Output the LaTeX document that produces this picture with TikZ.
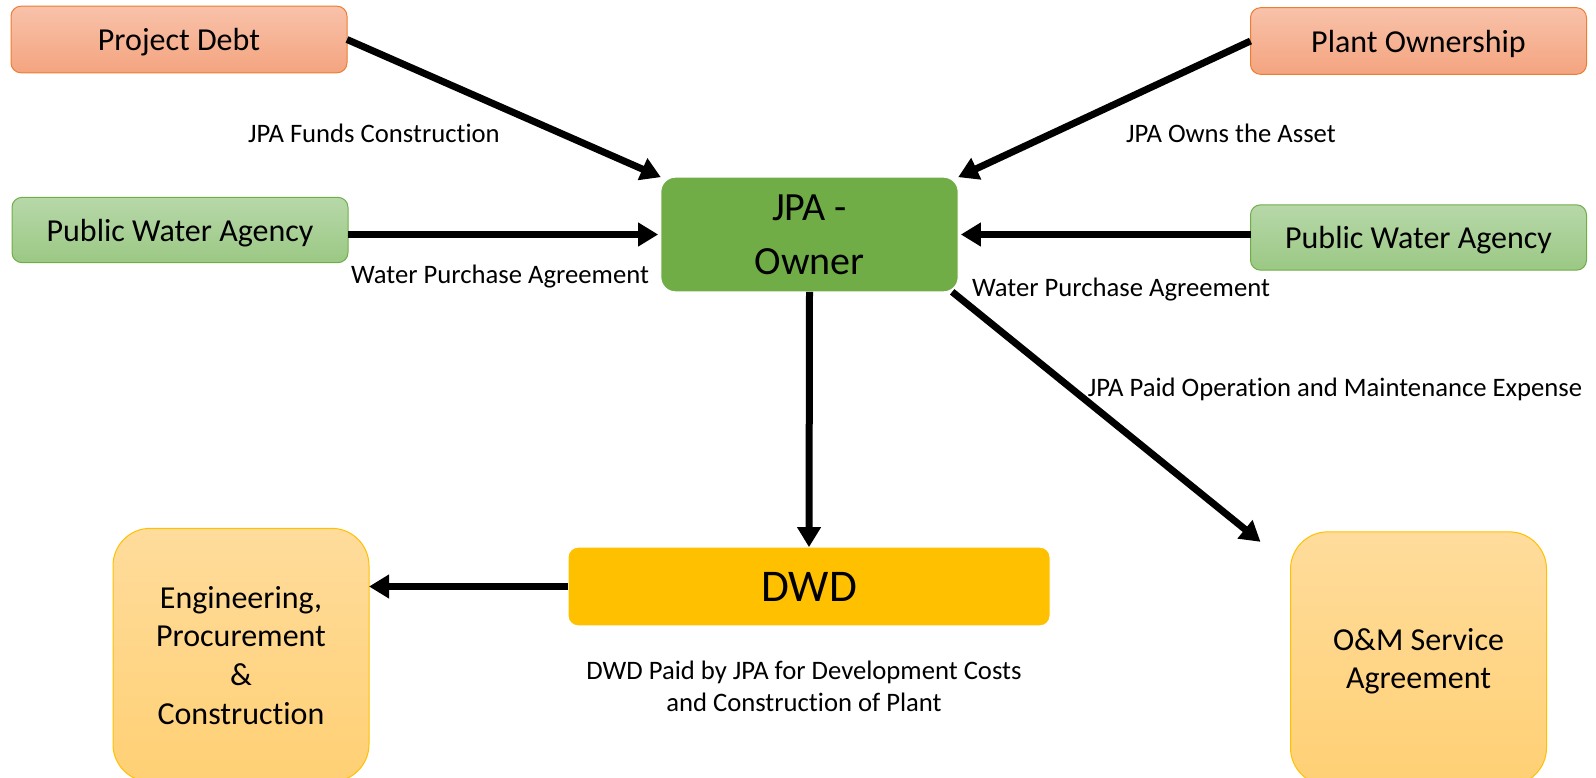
\documentclass[tikz,border=0pt]{standalone}
\usepackage{fontspec}
\setmainfont[Ligatures=NoCommon]{Carlito}
\usepackage{xcolor}
\usetikzlibrary{arrows.meta,positioning,calc}

\definecolor{debtTop}{HTML}{F8C2AA}
\definecolor{debtBot}{HTML}{F4A47F}
\definecolor{debtLine}{HTML}{ED7D31}
\definecolor{waterTop}{HTML}{B7D8A9}
\definecolor{waterBot}{HTML}{9BC884}
\definecolor{waterLine}{HTML}{70AD47}
\definecolor{jpaGreen}{HTML}{70AD47}
\definecolor{dwdGold}{HTML}{FFC000}
\definecolor{amberTop}{HTML}{FFDC9C}
\definecolor{amberBot}{HTML}{FFD074}
\definecolor{amberLine}{HTML}{FFC000}

\begin{document}
\begin{tikzpicture}[x=0.75pt, y=-0.75pt,
	box/.style={rounded corners=7.5pt, inner sep=0pt, outer sep=0pt, align=center, line width=0.75pt, font=\fontsize{24}{29}\selectfont},
	redbox/.style={box, draw=debtLine, top color=debtTop, bottom color=debtBot, minimum width=252pt, minimum height=50pt, text depth=-1pt},
	greenbox/.style={box, draw=waterLine, top color=waterTop, bottom color=waterBot, minimum width=252pt, minimum height=49pt, text depth=-1pt},
	tallbox/.style={box, rounded corners=28pt, draw=amberLine, top color=amberTop, bottom color=amberBot, minimum width=192pt, minimum height=190pt},
	flow/.style={line width=5.25pt, -{Triangle[length=15pt,width=17pt]}},
	lbl/.style={font=\fontsize{20}{24}\selectfont, align=center}]
			\useasboundingbox (0,0) rectangle (1596,778);

			\node[redbox] (debt) at (179,39.5) {Project Debt};
			\node[greenbox] (pwaL) at (180,230) {Public Water Agency};
			\node[redbox] (plant) at (1418.5,41) {Plant Ownership};
			\node[greenbox] (pwaR) at (1418.5,237.5) {Public Water Agency};
			\node[box, fill=jpaGreen, draw=white, rounded corners=11pt, minimum width=223pt, minimum height=86pt, text depth=-3pt, font=\fontsize{30}{40}\selectfont] (jpa) at (809.5,234.5) {JPA -\\Owner};
			\node[box, fill=dwdGold, draw=white, minimum width=361.5pt, minimum height=59pt, font=\fontsize{34}{40}\selectfont] (dwd) at (809,586.5) {DWD};
			\node[tallbox, text depth=-6pt] (epc) at (241,655) {Engineering,\\Procurement\\\&\\Construction};
			\node[tallbox, text depth=-1pt] (om) at (1418.5,658.5) {O\&M Service\\Agreement};

			\draw[flow] (debt.east) -- (jpa.north west);
			\draw[flow] (plant.west) -- (jpa.north east);
			\draw[flow] (pwaL.east |- jpa.west) -- ([xshift=-2pt]jpa.west);
			\draw[flow] (pwaR.west |- jpa.east) -- ([xshift=2pt]jpa.east);
			\draw[flow] (jpa.south) -- (dwd.north);
			\draw[flow] (dwd.west) -- (epc.east |- dwd.west);
			\draw[flow] ([xshift=-4.5pt]jpa.south east) -- ($(om.north west)+(-30,10)$);

			\node[lbl] (fundsLbl) at (374,133) {JPA Funds Construction};
			\node[lbl] (ownsLbl) at (1231,133) {JPA Owns the Asset};
			\node[lbl] (wpaLbl) at (500,277) {Water Purchase Agreement};
			\node[lbl] (wpaRLbl) at (1121,290) {Water Purchase Agreement};
			\node[lbl] (omLbl) at (1335,389) {JPA Paid Operation and Maintenance Expense};
			\node[lbl] (dwdLbl) at (804,686) {DWD Paid by JPA for Development Costs\\and Construction of Plant};
		\end{tikzpicture}
\end{document}
